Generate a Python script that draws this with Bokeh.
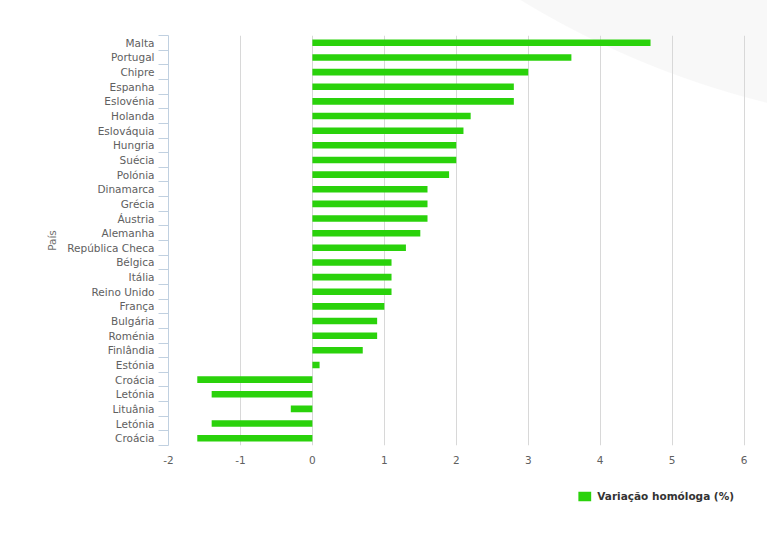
from bokeh.plotting import figure
from bokeh.models import Range1d, FixedTicker, Legend, LegendItem, ColumnDataSource
from bokeh.layouts import column
from bokeh.embed import file_html
from bokeh.resources import INLINE

countries = ["Malta", "Portugal", "Chipre", "Espanha", "Eslovénia", "Holanda",
             "Eslováquia", "Hungria", "Suécia", "Polónia", "Dinamarca", "Grécia",
             "Áustria", "Alemanha", "República Checa", "Bélgica", "Itália",
             "Reino Unido", "França", "Bulgária", "Roménia", "Finlândia", "Estónia",
             "Croácia", "Letónia", "Lituânia", "Letónia", "Croácia"]
values = [4.7, 3.6, 3.0, 2.8, 2.8, 2.2, 2.1, 2.0, 2.0, 1.9, 1.6, 1.6, 1.6, 1.5,
          1.3, 1.1, 1.1, 1.1, 1.0, 0.9, 0.9, 0.7, 0.1, -1.6, -1.4, -0.3, -1.4, -1.6]
x_ticks = [-2, -1, 0, 1, 2, 3, 4, 5, 6]
series_name = "Variação homóloga (%)"
axis_title = "País"

FONT = "DejaVu Sans"
GREEN = "#2ad20b"

n = len(countries)
pos = list(range(n))
src = ColumnDataSource(dict(y=pos, right=values, country=countries))

p = figure(width=767, height=470, output_backend="svg", toolbar_location=None,
           x_range=Range1d(x_ticks[0], x_ticks[-1] + 0.02),
           y_range=Range1d(n - 0.5, -0.5),
           min_border_left=168, min_border_right=22, min_border_top=35,
           min_border_bottom=25)
p.border_fill_color = None
p.background_fill_color = None
p.outline_line_color = None
p.styles = {"background-image":
            "radial-gradient(circle 879px at 978px -750px, #f8f8f8 878px, rgba(255,255,255,0) 879px)"}

r = p.hbar(y="y", right="right", left=0, height=0.45, source=src,
           color=GREEN, line_color=None)

# x axis
xa = p.xaxis[0]
xa.ticker = FixedTicker(ticks=x_ticks, minor_ticks=[])
xa.major_label_overrides = {t: str(t) for t in x_ticks}
xa.axis_line_color = None
xa.major_tick_line_color = None
xa.minor_tick_line_color = None
xa.major_tick_out = 0
xa.major_tick_in = 0
xa.major_label_standoff = 10
xa.major_label_text_font = FONT
xa.major_label_text_font_size = "10.5px"
xa.major_label_text_color = "#606060"

# y axis
ya = p.yaxis[0]
ya.ticker = FixedTicker(ticks=pos, minor_ticks=[i - 0.5 for i in range(n + 1)])
ya.major_label_overrides = {i: c for i, c in zip(pos, countries)}
ya.axis_line_color = "#c0d0e0"
ya.major_tick_line_color = None
ya.major_tick_out = 0
ya.major_tick_in = 0
ya.minor_tick_line_color = "#c0d0e0"
ya.minor_tick_out = 10
ya.minor_tick_in = 0
ya.major_label_standoff = 4
ya.major_label_text_font = FONT
ya.major_label_text_font_size = "10.5px"
ya.major_label_text_color = "#606060"
ya.axis_label = axis_title
ya.axis_label_text_font = FONT
ya.axis_label_text_font_size = "10.5px"
ya.axis_label_text_font_style = "normal"
ya.axis_label_text_color = "#707070"
ya.axis_label_standoff = 6

p.xgrid.grid_line_color = "#d8d8d8"
p.xgrid.ticker = FixedTicker(ticks=x_ticks)
p.ygrid.grid_line_color = None

# legend strip below the chart (its view range shows none of the bars)
q = figure(width=767, height=43, output_backend="svg", toolbar_location=None,
           x_axis_type=None, y_axis_type=None, min_border=0,
           x_range=Range1d(100, 101), y_range=Range1d(100, 101))
q.outline_line_color = None
q.border_fill_color = None
q.background_fill_color = None
q.xgrid.visible = False
q.ygrid.visible = False
lr = q.hbar(y="y", right="right", left=0, height=0.45, source=src,
            color=GREEN, line_color=None)
legend = Legend(items=[LegendItem(label=series_name, renderers=[lr], index=0)],
                location="bottom_right", orientation="horizontal",
                padding=0, margin=11, border_line_color=None,
                background_fill_alpha=0,
                glyph_width=16, glyph_height=12, label_height=12,
                label_standoff=5, label_text_font=FONT,
                label_text_font_size="10.5px", label_text_font_style="bold",
                label_text_color="#333333")
q.add_layout(legend, "center")

page = column(p, q, spacing=0)
open("out.html", "w").write(file_html(page, INLINE))
